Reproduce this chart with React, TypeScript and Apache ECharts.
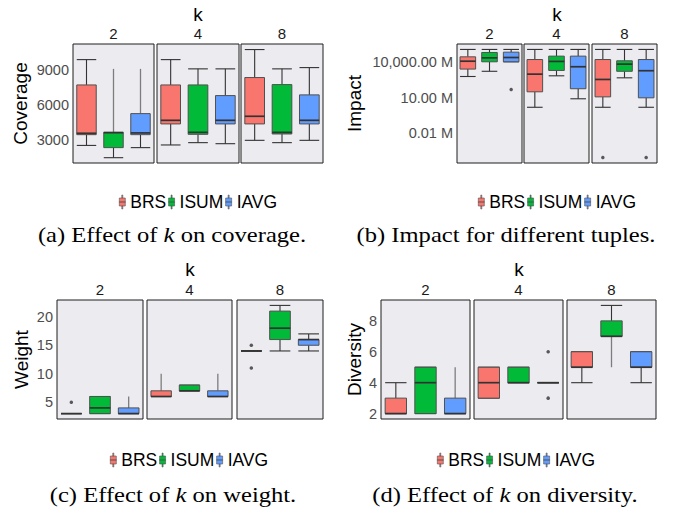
import React, { useEffect, useRef } from 'react';
import * as echarts from 'echarts';

const kValues = ['2', '4', '8'];
const methods = ['BRS', 'ISUM', 'IAVG'];
const methodColors = ['#F8766D', '#00BA38', '#619CFF'];

// box statistics [low, Q1, median, Q3, high], indexed [k][method]
const coverageBoxes = [
  [[2500, 3430, 3550, 7730, 9920], [1440, 2310, 3600, 3640, 9120], [2310, 3430, 3580, 5250, 9120]],
  [[2540, 4360, 4670, 7730, 9920], [2740, 3460, 3630, 7730, 9120], [2650, 4360, 4670, 6810, 9120]],
  [[2940, 4360, 5020, 8370, 10790], [2740, 3490, 3630, 7760, 9120], [2940, 4360, 4670, 6870, 9230]],
];
const coverageOutliers: number[][] = [];
const coverageOpenWhiskers: [number, number, string][] = [[0, 1, 'high'], [0, 2, 'high']];
const coverageTicks = [3000, 6000, 9000];

const impactBoxes = [
  [[6.2e8, 2.6e9, 1.2e10, 2.8e10, 1.17e11], [1.7e9, 1.07e10, 2.3e10, 6.5e10, 1.17e11], [1.07e10, 1.07e10, 2.45e10, 6.9e10, 1.17e11]],
  [[1.6e6, 3.2e7, 9.8e8, 1.66e10, 1.17e11], [7.1e8, 2.0e9, 1.15e10, 3.2e10, 1.17e11], [8.3e6, 5.8e7, 4.1e9, 3.2e10, 1.17e11]],
  [[1.6e6, 1.2e7, 3.5e8, 1.66e10, 1.17e11], [4.8e8, 1.7e9, 6.8e9, 1.3e10, 1.17e11], [1.6e6, 1.0e7, 1.9e9, 1.66e10, 1.17e11]],
];
const impactOutliers = [[0, 2, 5.0e7], [2, 0, 95], [2, 2, 95]];
const impactOpenWhiskers: [number, number, string][] = [];
const impactTicks = [1e4, 1e7, 1e10];

const weightBoxes = [
  [[3, 3, 3, 3, 3], [3, 3, 4, 6, 6], [3, 3, 3, 4, 6]],
  [[6, 6, 6, 7, 10], [7, 7, 7, 8, 8], [6, 6, 6, 7, 10]],
  [[14, 14, 14, 14, 14], [14, 16, 18, 21, 22], [14, 15, 16, 16, 17]],
];
const weightOutliers = [[0, 0, 5], [2, 0, 15], [2, 0, 11]];
const weightOpenWhiskers: [number, number, string][] = [[0, 2, 'high'], [1, 0, 'high'], [1, 2, 'high']];
const weightTicks = [5, 10, 15, 20];

const diversityBoxes = [
  [[2, 2, 2, 3, 4], [2, 2, 4, 5, 5], [2, 2, 2, 3, 5]],
  [[3, 3, 4, 5, 5], [4, 4, 4, 5, 5], [4, 4, 4, 4, 4]],
  [[4, 5, 5, 6, 6], [5, 7, 7, 8, 9], [4, 5, 5, 6, 6]],
];
const diversityOutliers = [[1, 2, 6], [1, 2, 3]];
const diversityOpenWhiskers: [number, number, string][] = [[0, 2, 'high'], [2, 1, 'low']];
const diversityTicks = [2, 4, 6, 8];

const SANS = '"Liberation Sans", Arial, Helvetica, sans-serif';
const SERIF = '"Liberation Serif", "Times New Roman", serif';

const impactFormatter = (v: number) =>
  (v / 1e6).toLocaleString('en-US', { minimumFractionDigits: 2, maximumFractionDigits: 2 }) + ' M';

const subplots = [
  {
    boxes: coverageBoxes, outliers: coverageOutliers, open: coverageOpenWhiskers, ticks: coverageTicks,
    yName: 'Coverage', yType: 'value', yMin: 980, yMax: 11270, nameGap: 43, formatter: (v: number) => String(v),
    grids: [[73, 44, 81, 119], [157, 44, 82, 119], [241, 44, 82, 119]],
    kPos: [198, 14], legendPos: [119, 193],
    caption: '(a) Effect of {i|k} on coverage.', capPos: [172, 235],
  },
  {
    boxes: impactBoxes, outliers: impactOutliers, open: impactOpenWhiskers, ticks: impactTicks,
    yName: 'Impact', yType: 'log', yMin: 33, yMax: 3.35e11, nameGap: 93, formatter: impactFormatter,
    grids: [[457, 44, 65, 119], [524, 44, 65, 119], [592, 44, 65, 119]],
    kPos: [557, 14], legendPos: [478, 193],
    caption: '(b) Impact for different tuples.', capPos: [506, 235],
  },
  {
    boxes: weightBoxes, outliers: weightOutliers, open: weightOpenWhiskers, ticks: weightTicks,
    yName: 'Weight', yType: 'value', yMin: 2.05, yMax: 22.95, nameGap: 26, formatter: (v: number) => String(v),
    grids: [[57, 300, 86, 119], [147, 300, 85, 119], [237, 300, 86, 119]],
    kPos: [190, 269], legendPos: [110, 451],
    caption: '(c) Effect of {i|k} on weight.', capPos: [173, 495],
  },
  {
    boxes: diversityBoxes, outliers: diversityOutliers, open: diversityOpenWhiskers, ticks: diversityTicks,
    yName: 'Diversity', yType: 'value', yMin: 1.65, yMax: 9.35, nameGap: 17, formatter: (v: number) => String(v),
    grids: [[381, 300, 89, 119], [474, 300, 89, 119], [567, 300, 89, 119]],
    kPos: [519, 269], legendPos: [437, 451],
    caption: '(d) Effect of {i|k} on diversity.', capPos: [505, 495],
  },
];

const renderBox = (params: any, api: any) => {
  const m = api.value(0);
  const low = api.value(1), q1 = api.value(2), med = api.value(3), q3 = api.value(4), high = api.value(5);
  const openLow = api.value(6) === 1;
  const openHigh = api.value(7) === 1;
  const cx = api.coord([m, med])[0];
  const band = api.size([1, med])[0];
  const half = band * 0.36;
  const y = (v: number) => api.coord([m, v])[1];
  const yLow = y(low), yQ1 = y(q1), yMed = y(med), yQ3 = y(q3), yHigh = y(high);
  const color = api.visual('color');
  const children: any[] = [];
  const whisker = (ya: number, yb: number, open: boolean) => ({
    type: 'line', shape: { x1: cx, y1: ya, x2: cx, y2: yb },
    style: { stroke: open ? '#7d7d7d' : '#333333', lineWidth: open ? 1.3 : 1.1 },
  });
  const cap = (yy: number) => ({
    type: 'line', shape: { x1: cx - half, y1: yy, x2: cx + half, y2: yy },
    style: { stroke: '#333333', lineWidth: 1.1 },
  });
  if (high > q3) children.push(whisker(yQ3, yHigh, openHigh));
  if (low < q1) children.push(whisker(yQ1, yLow, openLow));
  if (!openHigh) children.push(cap(yHigh));
  if (!openLow) children.push(cap(yLow));
  children.push({
    type: 'rect', shape: { x: cx - half, y: yQ3, width: half * 2, height: yQ1 - yQ3 },
    style: { fill: color, stroke: '#505050', lineWidth: 1 },
  });
  children.push({
    type: 'line', shape: { x1: cx - half, y1: yMed, x2: cx + half, y2: yMed },
    style: { stroke: '#333333', lineWidth: 1.7 },
  });
  return { type: 'group', children };
};

const legendIcon = 'path://M2.5,0h1v3h-1zM0,3h6v8h-6zM2.5,11h1v3h-1zM0,6.8h6v0.4h-6z';

function buildOption() {
  const grid: any[] = [];
  const xAxis: any[] = [];
  const yAxis: any[] = [];
  const series: any[] = [];
  const legend: any[] = [];
  const graphic: any[] = [];

  subplots.forEach((sp) => {
    sp.grids.forEach((g, p) => {
      const gi = grid.length;
      grid.push({
        left: g[0], top: g[1], width: g[2], height: g[3], show: true,
        backgroundColor: '#EBEBF0', borderColor: '#1f1f1f', borderWidth: 1,
      });
      xAxis.push({
        gridIndex: gi, type: 'category', data: methods, position: 'top',
        axisLine: { show: false }, axisTick: { show: false }, axisLabel: { show: false }, splitLine: { show: false },
        name: kValues[p], nameLocation: 'middle', nameGap: 3,
        nameTextStyle: { fontSize: 15, color: '#1a1a1a', fontFamily: SANS, verticalAlign: 'bottom' },
      });
      yAxis.push({
        gridIndex: gi, type: sp.yType, logBase: 10, min: sp.yMin, max: sp.yMax,
        axisLine: { show: false }, axisTick: { show: false }, splitLine: { show: false },
        axisLabel: {
          show: p === 0, customValues: sp.ticks, fontSize: 14.5, color: '#4d4d4d', fontFamily: SANS, margin: 4,
          formatter: sp.formatter,
        },
        name: p === 0 ? sp.yName : '', nameLocation: 'middle', nameGap: sp.nameGap, nameRotate: 90,
        nameTextStyle: { fontSize: 19, color: '#000', fontFamily: SANS },
      });
      methods.forEach((mName, mi) => {
        const st = sp.boxes[p][mi];
        const openLow = sp.open.some((o) => o[0] === p && o[1] === mi && o[2] === 'low') ? 1 : 0;
        const openHigh = sp.open.some((o) => o[0] === p && o[1] === mi && o[2] === 'high') ? 1 : 0;
        series.push({
          type: 'custom', name: mName, xAxisIndex: gi, yAxisIndex: gi,
          itemStyle: { color: methodColors[mi] },
          encode: { x: 0, y: [1, 2, 3, 4, 5] },
          renderItem: renderBox,
          data: [[mi, st[0], st[1], st[2], st[3], st[4], openLow, openHigh]],
          z: 3,
        });
      });
      const outs = sp.outliers.filter((o) => o[0] === p).map((o) => [o[1], o[2]]);
      if (outs.length) {
        series.push({
          type: 'scatter', name: 'outliers', xAxisIndex: gi, yAxisIndex: gi,
          symbol: 'circle', symbolSize: 3.5, itemStyle: { color: '#333333' }, data: outs, z: 4,
        });
      }
    });
    legend.push({
      data: methods, left: sp.legendPos[0], top: sp.legendPos[1], orient: 'horizontal',
      icon: legendIcon, itemWidth: 6, itemHeight: 14, itemGap: 2, padding: 0,
      itemStyle: { borderColor: '#555', borderWidth: 0.6 },
      textStyle: { fontSize: 17.5, color: '#000', fontFamily: SANS },
      selectedMode: false,
    });
    graphic.push({
      type: 'text', x: sp.kPos[0], y: sp.kPos[1],
      style: { text: 'k', fontSize: 19, fontFamily: SANS, fill: '#000', align: 'center', verticalAlign: 'middle' },
    });
    graphic.push({
      type: 'text', x: sp.capPos[0], y: sp.capPos[1], scaleX: 1.17,
      style: {
        text: sp.caption, fontSize: 21, fontFamily: SERIF, fill: '#000', align: 'center', verticalAlign: 'middle',
        rich: { i: { fontStyle: 'italic', fontSize: 21, fontFamily: SERIF, fill: '#000' } },
      },
    });
  });

  return { backgroundColor: '#ffffff', animation: false, grid, xAxis, yAxis, series, legend, graphic };
}

export default function App() {
  const ref = useRef<HTMLDivElement>(null);
  useEffect(() => {
    if (!ref.current) return;
    const chart = echarts.init(ref.current, undefined, { renderer: 'svg' });
    chart.setOption(buildOption() as any);
    return () => chart.dispose();
  }, []);
  return <div ref={ref} style={{ position: 'absolute', left: 0, top: 0, width: 678, height: 512 }} />;
}
